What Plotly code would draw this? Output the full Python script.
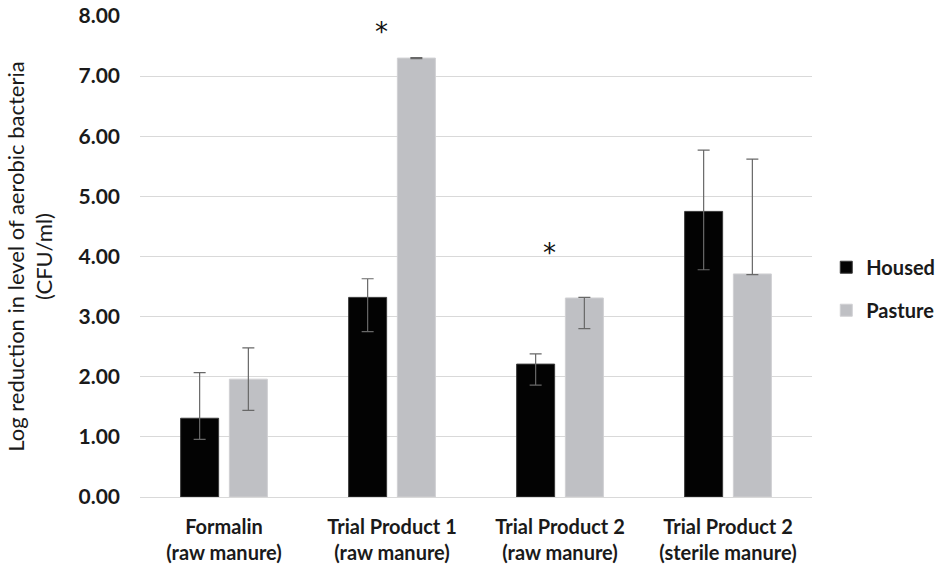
import plotly.graph_objects as go

# Treatments (x categories) and group names
categories = [
    "Formalin<br>(raw manure)",
    "Trial Product 1<br>(raw manure)",
    "Trial Product 2<br>(raw manure)",
    "Trial Product 2<br>(sterile manure)",
]

# Mean log reduction (CFU/ml)
housed = [1.31, 3.32, 2.21, 4.75]
pasture = [1.96, 7.30, 3.31, 3.71]

# Error bar extents above / below the mean
housed_err_plus = [0.76, 0.31, 0.17, 1.02]
housed_err_minus = [0.35, 0.57, 0.35, 0.97]
pasture_err_plus = [0.52, 0.01, 0.01, 1.91]
pasture_err_minus = [0.52, 0.01, 0.51, 0.01]

# Significance markers: (category index, height)
sig_marks = [(1, 7.74), (2, 4.06)]

tick_vals = [0, 1, 2, 3, 4, 5, 6, 7, 8]
tick_text = [f"{v:.2f}" for v in tick_vals]

FONT = "Lato, 'Open Sans', sans-serif"
TEXT = "#1a1a1a"
ERR_COLOR = "#686868"

fig = go.Figure()
fig.add_trace(go.Bar(
    name="Housed", x=categories, y=housed,
    marker=dict(color="#030303", line=dict(color="#3a3a3a", width=1)),
    error_y=dict(type="data", symmetric=False, array=housed_err_plus,
                 arrayminus=housed_err_minus, color=ERR_COLOR,
                 thickness=1.2, width=6),
    legendgroup="a",
))
fig.add_trace(go.Bar(
    name="Pasture", x=categories, y=pasture,
    marker=dict(color="#bfc0c4", line=dict(color="#d0d0d3", width=1)),
    error_y=dict(type="data", symmetric=False, array=pasture_err_plus,
                 arrayminus=pasture_err_minus, color=ERR_COLOR,
                 thickness=1.2, width=6),
    legendgroup="b",
))

for idx, h in sig_marks:
    fig.add_annotation(x=categories[idx], y=h, text="*", showarrow=False,
                       xshift=-11,
                       font=dict(family="DejaVu Sans, sans-serif", size=26, color="#111111"))

fig.update_layout(
    width=940, height=576,
    margin=dict(l=140, r=128, t=16, b=79, autoexpand=False),
    paper_bgcolor="white", plot_bgcolor="white",
    barmode="group", bargap=0.42, bargroupgap=0.22,
    font=dict(family=FONT, color=TEXT),
    legend=dict(xref="container", x=0.879, y=0.433, xanchor="left", yanchor="middle",
                traceorder="grouped", tracegroupgap=14,
                font=dict(family=FONT, size=20, color=TEXT, weight="bold"),
                itemwidth=30),
    showlegend=True,
)
fig.update_xaxes(
    showgrid=False, showline=False, ticks="", automargin=False,
    ticklabelstandoff=16,
    tickfont=dict(family=FONT, size=20, color=TEXT, weight="bold"),
)
fig.update_yaxes(
    range=[0, 8], tickvals=tick_vals, ticktext=tick_text, automargin=False,
    showgrid=True, gridcolor="#d9d9d9", gridwidth=1,
    zeroline=True, zerolinecolor="#d9d9d9", zerolinewidth=1,
    showline=False, ticks="", ticklabelstandoff=19,
    tickfont=dict(family=FONT, size=21, color=TEXT, weight="bold"),
    title=dict(text="Log reduction in level of aerobic bacteria<br>(CFU/ml)",
               font=dict(family=FONT, size=22, color=TEXT), standoff=19),
)

fig.write_html("out.html")
